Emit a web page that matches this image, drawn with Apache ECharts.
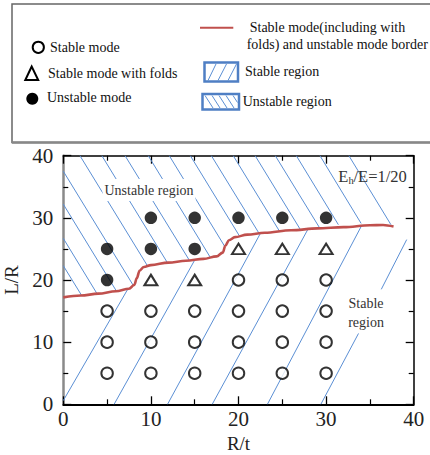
<!DOCTYPE html>
<html>
<head>
<meta charset="utf-8">
<script src="https://cdn.jsdelivr.net/npm/echarts@6/dist/echarts.min.js"></script>
<style>html,body{margin:0;padding:0;background:#fff}#c{width:430px;height:455px}</style>
</head>
<body>
<div id="c"></div>
<script>
// ---- data ----
const xTicks = [0, 10, 20, 30, 40];
const yTicks = [0, 10, 20, 30, 40];
const stableMode = [[5,5],[5,10],[5,15],[10,5],[10,10],[10,15],[15,5],[15,10],[15,15],
  [20,5],[20,10],[20,15],[20,20],[25,5],[25,10],[25,15],[25,20],[30,5],[30,10],[30,15],[30,20]];
const foldMode = [[10,20],[15,20],[20,25],[25,25],[30,25]];
const unstableMode = [[5,20],[5,25],[10,25],[10,30],[15,25],[15,30],[20,30],[25,30],[30,30]];
const borderCurve = [[0,17.2],[2,17.5],[4,17.8],[6,18.2],[7.5,18.6],[8.1,19.2],[8.4,20.3],[8.7,21.5],
  [9.2,22.1],[10,22.4],[12,22.8],[14,23.1],[16,23.4],[17.5,23.8],[18.2,24.4],[18.5,25.5],[18.9,26.4],
  [19.6,26.9],[21,27.3],[23,27.6],[26,28.0],[29,28.3],[32,28.5],[35,28.8],[36.5,28.85],[37.7,28.6]];
// hatch segments [x1,y1,x2,y2] in data units
const stableHatch = [[0,0.6,7.35,18.5],[5.8,0,15.0,23.2],[11.9,0,22.5,27.5],[17.0,0,27.9,28.1],
  [23.3,0,34.0,28.6],[29.4,0,33.7,11.4],[36.3,18.5,39.2,26.5]];
const unstableHatch = [[0,22.3,2.1,17.5],[0,26.7,3.85,17.8],[0,32.2,6.05,18.25],[0,37.5,8.0,19.1],
  [1.9,40,9.6,22.3],[4.4,40,11.9,22.75],[7.05,40,14.4,23.15],[9.7,40,16.8,23.6],[12.1,40,18.45,25.35],
  [14.5,40,20.1,27.1],[16.9,40,22.35,27.5],[19.4,40,24.7,27.8],[21.9,40,27.07,28.1],[24.2,40,29.3,28.3],
  [26.6,40,31.4,28.9],[29.3,40,34.0,29.1],[32.6,40,37.4,28.9]];

const SERIF = '"Liberation Serif", "Times New Roman", serif';
const HATCH = '#5b8fd4';
const RED = '#c0504d';

const toLines = arr => arr.map(s => ({coords: [[s[0], s[1]], [s[2], s[3]]]}));

function txt(x, y, text, size, color, align) {
  return {type: 'text', x: x, y: y, z: 100,
    style: {text: text, font: size + 'px ' + SERIF, fill: color || '#111',
      textAlign: align || 'left', align: align || 'left', textVerticalAlign: 'middle', verticalAlign: 'middle'}};
}

const LF = 14;
const legendGraphics = [
  {type: 'rect', shape: {x: 12, y: 4, width: 440, height: 138.5}, style: {fill: 'none', stroke: '#666', lineWidth: 1.5}},
  {type: 'line', shape: {x1: 12, y1: 142.5, x2: 440, y2: 142.5}, style: {stroke: '#888', lineWidth: 2.5}},
  {type: 'circle', shape: {cx: 38.3, cy: 47.3, r: 5.6}, style: {fill: 'none', stroke: '#000', lineWidth: 2}},
  txt(50, 47.5, 'Stable mode', LF),
  {type: 'polygon', shape: {points: [[31.7, 66.5], [25.3, 80], [38.2, 80]]}, style: {fill: 'none', stroke: '#000', lineWidth: 2}},
  txt(48, 73.3, 'Stable mode with folds', LF),
  {type: 'circle', shape: {cx: 32.3, cy: 98.7, r: 6}, style: {fill: '#000'}},
  txt(47, 97.7, 'Unstable mode', LF),
  {type: 'line', shape: {x1: 200, y1: 27.7, x2: 233.3, y2: 27.7}, style: {stroke: RED, lineWidth: 2}},
  txt(249.7, 27.3, 'Stable mode(including with', LF),
  txt(246.7, 44.7, 'folds) and unstable mode border', LF),
  {type: 'rect', shape: {x: 204.5, y: 62.5, width: 33.5, height: 19}, style: {fill: '#fff', stroke: '#4f7fc4', lineWidth: 2.5}},
  {type: 'line', shape: {x1: 208, y1: 80.5, x2: 216, y2: 64}, style: {stroke: HATCH, lineWidth: 1}},
  {type: 'line', shape: {x1: 218, y1: 80.5, x2: 226.5, y2: 64}, style: {stroke: HATCH, lineWidth: 1}},
  {type: 'line', shape: {x1: 228, y1: 80.5, x2: 236.5, y2: 64}, style: {stroke: HATCH, lineWidth: 1}},
  txt(245, 71.7, 'Stable region', LF),
  {type: 'rect', shape: {x: 202.5, y: 94, width: 36.5, height: 15.5}, style: {fill: '#fff', stroke: '#4f7fc4', lineWidth: 2.5}},
  {type: 'line', shape: {x1: 205, y1: 95.5, x2: 213, y2: 108}, style: {stroke: HATCH, lineWidth: 1}},
  {type: 'line', shape: {x1: 212, y1: 95.5, x2: 220, y2: 108}, style: {stroke: HATCH, lineWidth: 1}},
  {type: 'line', shape: {x1: 219, y1: 95.5, x2: 227, y2: 108}, style: {stroke: HATCH, lineWidth: 1}},
  {type: 'line', shape: {x1: 226, y1: 95.5, x2: 234, y2: 108}, style: {stroke: HATCH, lineWidth: 1}},
  {type: 'line', shape: {x1: 233, y1: 95.5, x2: 237.5, y2: 102.5}, style: {stroke: HATCH, lineWidth: 1}},
  txt(242.7, 101, 'Unstable region', LF)
];

const annot = [
  {type: 'text', x: 149, y: 190, z: 100,
    style: {text: 'Unstable region', font: '14px ' + SERIF, fill: '#333', textAlign: 'center', align: 'center',
      textVerticalAlign: 'middle', verticalAlign: 'middle', backgroundColor: '#fff', padding: [4, 2]}},
  txt(338.3, 176.3, 'E', 16.5, '#333'),
  txt(348.5, 180, 'h', 10.5, '#333'),
  txt(353.5, 176.3, '/E=1/20', 16.5, '#333'),
  {type: 'text', x: 366, y: 312.5, z: 100,
    style: {text: 'Stable\nregion', font: '14px ' + SERIF, fill: '#333', textAlign: 'center', align: 'center',
      textVerticalAlign: 'middle', verticalAlign: 'middle', lineHeight: 19}}
];

const axisCommon = {
  type: 'value', min: 0, max: 40, interval: 10,
  splitLine: {show: false},
  minorTick: {show: true, splitNumber: 2, length: 5, lineStyle: {color: '#000', width: 1.2}},
  minorSplitLine: {show: false},
  axisTick: {show: true, inside: true, length: 8, lineStyle: {color: '#000', width: 1.3}}
};

const chart = echarts.init(document.getElementById('c'), null, {renderer: 'svg'});
chart.setOption({
  backgroundColor: '#fff',
  animation: false,
  grid: {left: 63.3, right: 16.3, top: 155.7, bottom: 50.7, containLabel: false, outerBoundsMode: 'none'},
  xAxis: [
    Object.assign({}, axisCommon, {
      position: 'bottom', name: 'R/t', nameLocation: 'middle', nameGap: 28,
      nameTextStyle: {fontFamily: SERIF, fontSize: 19, color: '#222'},
      axisLine: {show: true, onZero: false, lineStyle: {color: '#000', width: 2}},
      axisLabel: {show: true, margin: 4, fontFamily: SERIF, fontSize: 21, color: '#222',
        formatter: v => xTicks.indexOf(v) >= 0 ? String(v) : ''}
    }),
    Object.assign({}, axisCommon, {
      position: 'top',
      axisLine: {show: true, onZero: false, lineStyle: {color: '#000', width: 1.5}},
      axisLabel: {show: false}
    })
  ],
  yAxis: [
    Object.assign({}, axisCommon, {
      position: 'left', name: 'L/R', nameLocation: 'middle', nameGap: 34, nameRotate: 90,
      nameTextStyle: {fontFamily: SERIF, fontSize: 19, color: '#222'},
      axisLine: {show: true, onZero: false, lineStyle: {color: '#8a8a8a', width: 2.5}},
      axisLabel: {show: true, margin: 10, fontFamily: SERIF, fontSize: 21, color: '#222',
        formatter: v => yTicks.indexOf(v) >= 0 ? String(v) : ''}
    }),
    Object.assign({}, axisCommon, {
      position: 'right',
      axisLine: {show: true, onZero: false, lineStyle: {color: '#000', width: 1.5}},
      axisLabel: {show: false}
    })
  ],
  series: [
    {name: 'Stable region', type: 'lines', coordinateSystem: 'cartesian2d', xAxisIndex: 0, yAxisIndex: 0,
      data: toLines(stableHatch), lineStyle: {color: HATCH, width: 1, opacity: 1}, z: 1, silent: true},
    {name: 'Unstable region', type: 'lines', coordinateSystem: 'cartesian2d', xAxisIndex: 0, yAxisIndex: 0,
      data: toLines(unstableHatch), lineStyle: {color: HATCH, width: 1, opacity: 1}, z: 1, silent: true},
    {name: 'Border', type: 'line', xAxisIndex: 0, yAxisIndex: 0, data: borderCurve, smooth: 0.35,
      smoothMonotone: 'x', showSymbol: false, lineStyle: {color: RED, width: 2.6}, z: 3},
    {name: 'Stable mode', type: 'scatter', xAxisIndex: 0, yAxisIndex: 0, data: stableMode,
      symbol: 'circle', symbolSize: 11.5, itemStyle: {color: '#fff', borderColor: '#000', borderWidth: 2}, z: 5},
    {name: 'Stable mode with folds', type: 'scatter', xAxisIndex: 0, yAxisIndex: 0, data: foldMode,
      symbol: 'triangle', symbolSize: [13, 10.5], itemStyle: {color: '#fff', borderColor: '#000', borderWidth: 2}, z: 5},
    {name: 'Unstable mode', type: 'scatter', xAxisIndex: 0, yAxisIndex: 0, data: unstableMode,
      symbol: 'circle', symbolSize: 12.5, itemStyle: {color: '#000'}, z: 5}
  ],
  graphic: legendGraphics.concat(annot)
});
</script>
</body>
</html>
